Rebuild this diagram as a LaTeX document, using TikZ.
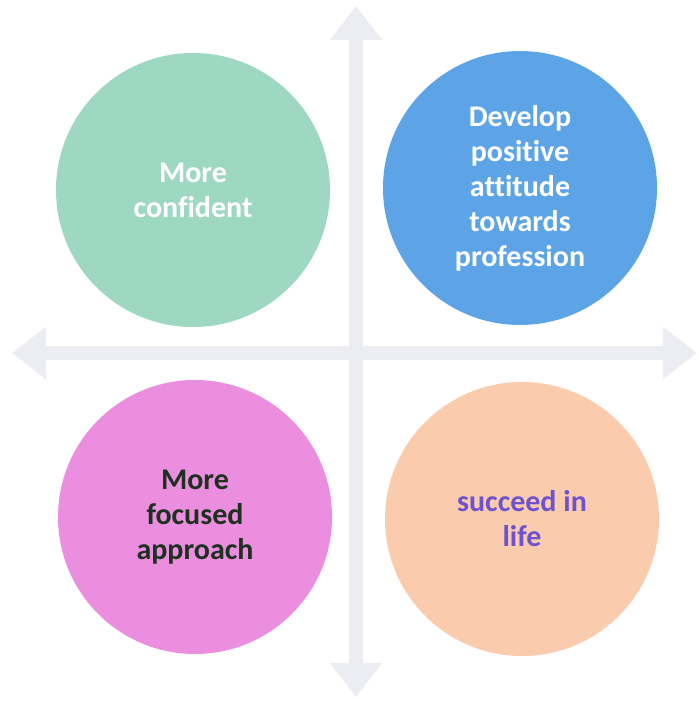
\documentclass[tikz,border=0pt]{standalone}
\usepackage{fontspec}
\setmainfont{Carlito}[Ligatures={NoCommon}]
\usetikzlibrary{arrows.meta}
\definecolor{axiscol}{HTML}{ECECF3}
\definecolor{mint}{HTML}{9FD8C2}
\definecolor{skyblue}{HTML}{5DA4E6}
\definecolor{orchid}{HTML}{EC8EDF}
\definecolor{peach}{HTML}{FACBAD}
\definecolor{darktext}{HTML}{1E301F}
\definecolor{purpletext}{HTML}{6E52CF}
\tikzset{
  bubble/.style={circle, minimum size=274pt, inner sep=0pt, align=center,
    font=\fontsize{30}{35}\selectfont\bfseries},
  axis/.style={draw=axiscol, line width=14pt,
    arrows={Triangle[width=50pt,length=34pt]-Triangle[width=50pt,length=34pt]}}
}
\begin{document}
\begin{tikzpicture}[x=1pt,y=-1pt]
\useasboundingbox (0,0) rectangle (698,701);
\fill[white] (0,0) rectangle (698,701);
% axes
\coordinate (top) at (356,6);
\coordinate (bottom) at (356,697);
\coordinate (left) at (12,353);
\coordinate (right) at (697,353);
\draw[axis] (top) -- (bottom);
\draw[axis] (left) -- (right);
% circles
\node[bubble, fill=mint, text=white] (tl) at (193,190) {More\\confident};
\node[bubble, fill=skyblue, text=white] (tr) at (520,188) {Develop\\positive\\attitude\\towards\\profession};
\node[bubble, fill=orchid, text=darktext] (bl) at (195,517) {More\\focused\\approach};
\node[bubble, fill=peach, text=purpletext] (br) at (522,519) {succeed in\\life};
\end{tikzpicture}
\end{document}
